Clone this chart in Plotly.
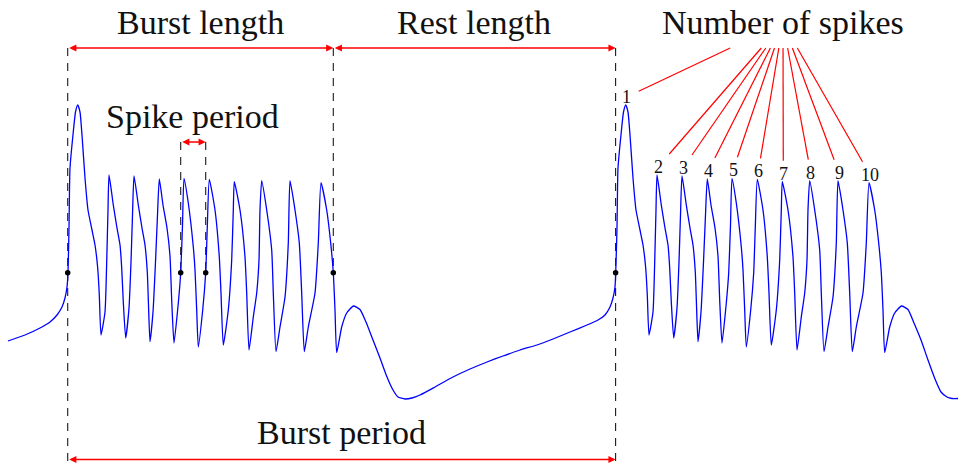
import plotly.graph_objects as go

# ---------------- data (time in px-like units, membrane value on a downward screen-like scale) -------------
approach_t = [8, 25, 40, 50, 57, 62, 65, 67, 68]
approach_v = [341, 335, 328, 322, 315, 307, 298, 287, 272.7]

burst1_t = [69, 70, 73.3, 75.5, 77.7, 80, 82, 85, 88, 92, 95, 97.7, 99.3, 101,
            105, 106.7, 108, 109, 113.3, 117, 120, 121.7, 123.3, 125.7,
            129, 131, 132.5, 134, 138.3, 142, 145, 147.3, 148.5, 150,
            153, 155.5, 157.5, 159.3, 163, 167, 170, 171.7, 174,
            178.3, 180.7, 182.5, 184, 188.3, 193.3, 195, 196.7, 198.3,
            202.7, 205.7, 207.3, 209.3, 215, 219.3, 221, 223.3,
            228.3, 231.7, 233.3, 234.3, 240, 245, 246.7, 249,
            253.3, 256.7, 259, 260, 261.7, 266.7, 271.7, 273.3, 276,
            280, 285, 288.3, 290, 295, 299.3, 301.7, 304.3,
            308.3, 315, 318.3, 321, 326.7, 330.7, 333.3, 335, 336.7]
burst1_v = [228, 168, 131.7, 112, 105, 112, 135, 178, 210, 230, 245, 268, 295, 335,
            312, 262, 210, 175, 205, 228, 245, 268, 302, 338,
            308, 262, 215, 176, 205, 228, 245, 272, 305, 341.7,
            312, 262, 215, 179, 205, 228, 256, 300, 343,
            303, 272.7, 225, 178.3, 203, 247, 270, 310, 347,
            310, 272.7, 227, 179.3, 210, 257, 293, 345,
            310, 260, 210, 181.7, 210, 257, 293, 350,
            317, 293, 260, 210, 180.7, 210, 250, 293, 351.7,
            327, 297, 243, 180.7, 210, 243, 293, 351.7,
            327, 293, 243, 182.7, 210, 243, 272.7, 310, 352.7]

rest_t = [341.7, 346.7, 353.5, 360, 366, 373, 380, 387, 393, 398, 405, 412, 420,
          435, 453, 470, 487, 503, 520, 537, 553, 570, 587, 598, 605, 610, 613, 615, 615.7]
rest_v = [327, 313, 306, 309.5, 322, 340, 358, 377, 390, 397, 399, 398, 395,
          387, 377, 369, 362, 356, 350, 345, 339, 332, 325, 320, 315, 307, 298, 287, 272.7]

burst2_t = [617, 618, 621.3, 623.5, 625.7, 628, 630, 633, 636, 640, 643, 645.7, 647.3, 649,
            653, 654.7, 656, 657, 661.3, 665, 668, 669.7, 671.3, 673.7,
            677, 679, 680.5, 682, 686.3, 690, 693, 695.3, 696.5, 698,
            701, 703.5, 705.5, 707.3, 711, 715, 718, 719.7, 722,
            726.3, 728.7, 730.5, 732, 736.3, 741.3, 743, 744.7, 746.3,
            750.7, 753.7, 755.3, 757.3, 763, 767.3, 769, 771.3,
            776.3, 779.7, 781.3, 782.3, 788, 793, 794.7, 797,
            801.3, 804.7, 807, 808, 809.7, 814.7, 819.7, 821.3, 824,
            828, 833, 836.3, 838, 843, 847.3, 849.7, 852.3,
            856.3, 863, 866.3, 869, 874.7, 878.7, 881.3, 883, 884.7]
burst2_v = burst1_v[:]  # second burst: same spike heights

tail_t = [889.7, 894.7, 901.5, 908, 914, 921, 928, 935, 941, 947, 952, 958]
tail_v = [327, 313, 306, 309.5, 323, 340, 360, 379, 392, 397, 398.5, 398.5]

# event markers
threshold_v = 272.7
burst_start_t = 67.7
burst_end_t = 333.3
next_burst_t = 615.6
spike_period_t = [180.7, 205.7]

# spike numbering (second burst)
spike_labels = ["1", "2", "3", "4", "5", "6", "7", "8", "9", "10"]
spike_peak_t = [625.7, 657, 682, 707.3, 732, 757.3, 782.3, 809.7, 838, 869]
spike_peak_v = [105, 175, 176, 179, 178.3, 179.3, 181.7, 180.7, 180.7, 182.7]

# ---------------- figure ----------------
FONT = "Liberation Serif"
W, H = 958, 466
top_arrow_y = 48
spike_arrow_y = 142
bottom_arrow_y = 459.5

t_all = approach_t + burst1_t + rest_t + burst2_t + tail_t
v_all = approach_v + burst1_v + rest_v + burst2_v + tail_v

fig = go.Figure()
dash = "8px,7px"
shapes = []
def vdash(x, y0, y1):
    shapes.append(dict(type="line", xref="x", yref="y", x0=x, x1=x, y0=y0, y1=y1,
                       line=dict(color="#1a1a1a", width=1.1, dash=dash), layer="below"))

vdash(burst_start_t, top_arrow_y, bottom_arrow_y + 3)
vdash(burst_end_t, top_arrow_y, threshold_v)
vdash(next_burst_t, top_arrow_y, bottom_arrow_y + 3)
for st in spike_period_t:
    vdash(st, spike_arrow_y, threshold_v)

fig.add_trace(go.Scatter(x=t_all, y=v_all, mode="lines",
                         line=dict(color="#0000ff", width=1.3, shape="spline", smoothing=0.5),
                         hoverinfo="skip"))

dots_t = [burst_start_t] + spike_period_t + [burst_end_t, next_burst_t]
fig.add_trace(go.Scatter(x=dots_t, y=[threshold_v] * len(dots_t), mode="markers",
                         marker=dict(color="black", size=5.5), hoverinfo="skip"))

# leader lines from "Number of spikes" to each spike label
hub_x, hub_y = 783, 23
label_offset = 8
for lab, pt, pv in zip(spike_labels, spike_peak_t, spike_peak_v):
    lx, ly = pt + 1, pv - label_offset
    dx, dy = hub_x - lx, hub_y - ly
    hw = 6 * len(lab) + 6
    hh = 13
    tb = min(hw / abs(dx) if dx else 1e9, hh / abs(dy))
    t_top = (ly - top_arrow_y) / (ly - hub_y)
    fig.add_trace(go.Scatter(x=[lx + dx * tb, lx + dx * t_top], y=[ly + dy * tb, ly + dy * t_top],
                             mode="lines", line=dict(color="red", width=1.2), hoverinfo="skip"))

annotations = []
def harrow(x0, x1, y):
    annotations.append(dict(x=x1, y=y, ax=x0, ay=y, xref="x", yref="y", axref="x", ayref="y",
                            text="", showarrow=True, arrowside="end+start", arrowhead=2,
                            startarrowhead=2, arrowsize=1.1, startarrowsize=1.1,
                            arrowwidth=1.3, arrowcolor="red", standoff=0, startstandoff=0))

harrow(burst_start_t, burst_end_t, top_arrow_y)
harrow(burst_end_t, next_burst_t, top_arrow_y)
harrow(spike_period_t[0], spike_period_t[1], spike_arrow_y)
harrow(burst_start_t, next_burst_t, bottom_arrow_y)

def label(text, x, y, size):
    annotations.append(dict(x=x, y=y, xref="x", yref="y", text=text, showarrow=False,
                            xanchor="center", yanchor="middle",
                            font=dict(family=FONT, size=size, color="#111111")))

label("Burst length", (burst_start_t + burst_end_t) / 2, 22, 34)
label("Rest length", (burst_end_t + next_burst_t) / 2, 22, 34)
label("Number of spikes", hub_x, 22, 34)
label("Spike period", 192, 116, 34)
label("Burst period", 341, 432, 34)
for lab, pt, pv in zip(spike_labels, spike_peak_t, spike_peak_v):
    label(lab, pt + 1, pv - label_offset, 18)

fig.update_layout(
    width=W, height=H, margin=dict(l=0, r=0, t=0, b=0),
    paper_bgcolor="white", plot_bgcolor="white", showlegend=False,
    xaxis=dict(range=[0, W], visible=False, fixedrange=True),
    yaxis=dict(range=[H, 0], visible=False, fixedrange=True),
    shapes=shapes, annotations=annotations,
)
fig.write_html("out.html")
